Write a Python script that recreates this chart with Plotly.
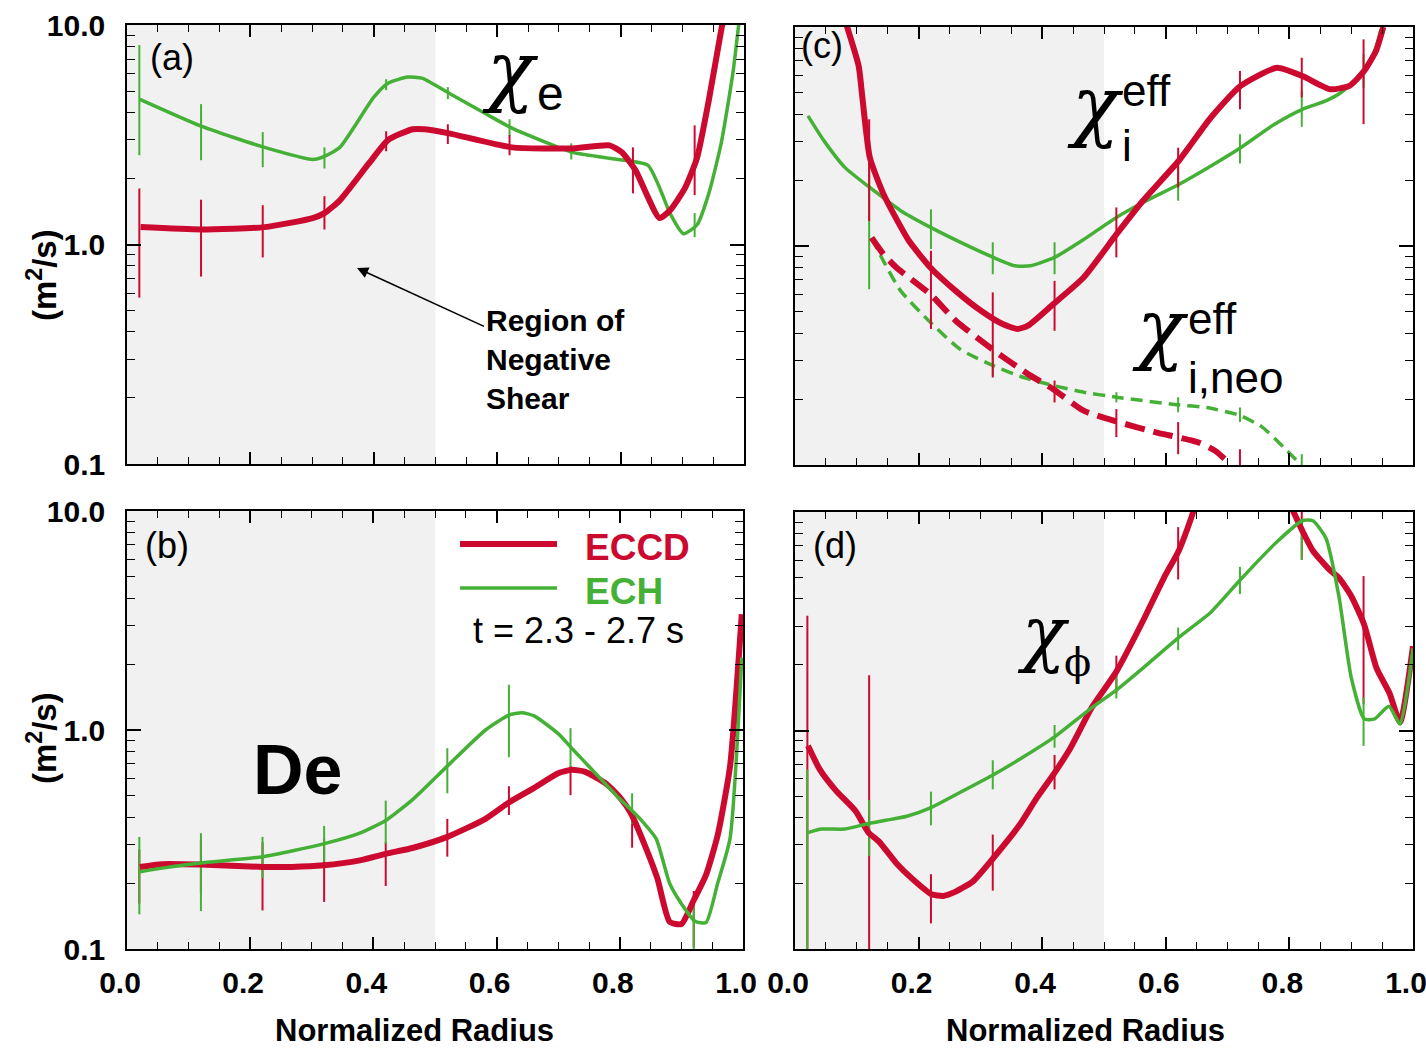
import plotly.graph_objects as go

# ---------------- data ----------------
# panel (a): electron heat diffusivity chi_e
a_eccd_x = [0.022, 0.12, 0.223, 0.301, 0.32, 0.345, 0.392, 0.423, 0.463, 0.483, 0.522, 0.624, 0.722, 0.782, 0.802, 0.824, 0.863, 0.88, 0.904, 0.924, 0.943, 0.964, 0.968]
a_eccd_y = [1.20, 1.17, 1.20, 1.32, 1.39, 1.59, 2.34, 2.99, 3.35, 3.35, 3.21, 2.77, 2.74, 2.83, 2.63, 2.18, 1.32, 1.43, 1.80, 2.49, 4.55, 9.8, 11.0]
a_ech_x = [0.021, 0.12, 0.223, 0.301, 0.32, 0.345, 0.40, 0.423, 0.455, 0.478, 0.522, 0.58, 0.624, 0.683, 0.722, 0.782, 0.844, 0.863, 0.88, 0.902, 0.924, 0.943, 0.963, 0.982, 0.993]
a_ech_y = [4.58, 3.46, 2.77, 2.44, 2.52, 2.77, 4.69, 5.43, 5.79, 5.73, 4.89, 3.96, 3.39, 2.89, 2.63, 2.47, 2.30, 1.82, 1.39, 1.12, 1.23, 1.71, 2.89, 6.04, 11.0]
a_eccd_err_x = [0.02, 0.12, 0.22, 0.32, 0.42, 0.52, 0.62, 0.82, 0.92]
a_eccd_err_lo = [0.573, 0.714, 0.873, 1.17, 2.66, 2.87, 2.55, 1.71, 1.68]
a_eccd_err_hi = [1.80, 1.60, 1.51, 1.66, 3.28, 3.53, 3.15, 2.77, 3.49]
a_ech_err_x = [0.02, 0.12, 0.22, 0.32, 0.42, 0.52, 0.62, 0.72, 0.92]
a_ech_err_lo = [2.55, 2.42, 2.25, 2.22, 5.05, 4.59, 3.11, 2.44, 1.08]
a_ech_err_hi = [8.1, 4.36, 3.25, 2.77, 5.66, 5.21, 3.72, 2.89, 1.39]

# panel (b): particle diffusivity D_e
b_eccd_x = [0.021, 0.057, 0.119, 0.221, 0.268, 0.319, 0.378, 0.42, 0.465, 0.52, 0.582, 0.62, 0.661, 0.70, 0.722, 0.743, 0.779, 0.802, 0.818, 0.841, 0.861, 0.881, 0.90, 0.92, 0.94, 0.959, 0.979, 0.998]
b_eccd_y = [0.237, 0.244, 0.243, 0.237, 0.237, 0.241, 0.254, 0.272, 0.290, 0.325, 0.393, 0.467, 0.544, 0.634, 0.658, 0.645, 0.565, 0.485, 0.417, 0.296, 0.210, 0.133, 0.130, 0.167, 0.218, 0.332, 0.684, 3.38]
b_ech_x = [0.021, 0.057, 0.119, 0.221, 0.319, 0.378, 0.42, 0.465, 0.52, 0.582, 0.62, 0.641, 0.661, 0.70, 0.722, 0.755, 0.794, 0.818, 0.838, 0.859, 0.881, 0.90, 0.922, 0.94, 0.959, 0.979, 0.998]
b_ech_y = [0.225, 0.234, 0.247, 0.264, 0.302, 0.338, 0.386, 0.485, 0.684, 1.0, 1.17, 1.20, 1.16, 0.962, 0.826, 0.658, 0.504, 0.433, 0.379, 0.319, 0.199, 0.161, 0.134, 0.132, 0.200, 0.320, 2.14]
b_err_x = [0.02, 0.12, 0.22, 0.32, 0.42, 0.52, 0.62, 0.72, 0.82, 0.92]
b_eccd_err_lo = [0.161, 0.180, 0.150, 0.164, 0.194, 0.264, 0.409, 0.504, 0.290, 0.102]
b_eccd_err_hi = [0.285, 0.313, 0.307, 0.319, 0.308, 0.393, 0.554, 0.684, 0.417, 0.184]
b_ech_err_lo = [0.144, 0.149, 0.210, 0.250, 0.302, 0.514, 0.751, 0.658, 0.372, 0.100]
b_ech_err_hi = [0.325, 0.338, 0.325, 0.365, 0.476, 0.826, 1.61, 1.02, 0.514, 0.174]

# panel (c): effective ion diffusivity and its neoclassical value
c_eccd_x = [0.082, 0.103, 0.109, 0.121, 0.143, 0.164, 0.184, 0.219, 0.260, 0.301, 0.336, 0.360, 0.377, 0.418, 0.467, 0.520, 0.563, 0.621, 0.673, 0.721, 0.780, 0.821, 0.866, 0.897, 0.921, 0.940, 0.952]
c_eccd_y = [10.5, 6.64, 4.77, 2.54, 1.73, 1.33, 1.06, 0.798, 0.624, 0.506, 0.440, 0.418, 0.433, 0.543, 0.718, 1.13, 1.61, 2.45, 3.86, 5.38, 6.52, 5.97, 5.20, 5.38, 6.30, 7.76, 10.0]
c_eccd_neo_x = [0.124, 0.143, 0.164, 0.219, 0.260, 0.319, 0.377, 0.418, 0.467, 0.520, 0.584, 0.652, 0.680, 0.701]
c_eccd_neo_y = [1.09, 0.918, 0.798, 0.602, 0.456, 0.338, 0.260, 0.222, 0.177, 0.158, 0.141, 0.127, 0.116, 0.103]
c_ech_x = [0.021, 0.047, 0.081, 0.121, 0.171, 0.221, 0.274, 0.321, 0.356, 0.381, 0.420, 0.467, 0.520, 0.563, 0.621, 0.673, 0.721, 0.776, 0.821, 0.859, 0.883, 0.921, 0.940, 0.948]
c_ech_y = [3.93, 3.02, 2.28, 1.85, 1.45, 1.21, 1.02, 0.887, 0.812, 0.812, 0.887, 1.07, 1.35, 1.58, 1.91, 2.32, 2.81, 3.60, 4.21, 4.60, 5.01, 6.30, 8.05, 9.76]
c_ech_neo_x = [0.124, 0.143, 0.171, 0.219, 0.267, 0.321, 0.370, 0.420, 0.467, 0.520, 0.621, 0.666, 0.721, 0.756, 0.790, 0.819]
c_ech_neo_y = [1.09, 0.855, 0.624, 0.448, 0.338, 0.284, 0.251, 0.230, 0.215, 0.204, 0.188, 0.183, 0.168, 0.149, 0.121, 0.100]
c_eccd_err_x = [0.12, 0.22, 0.32, 0.42, 0.52, 0.62, 0.72, 0.82, 0.92]
c_eccd_err_lo = [1.30, 0.418, 0.251, 0.410, 0.887, 1.85, 4.21, 4.77, 3.60]
c_eccd_err_hi = [3.79, 0.951, 0.614, 0.693, 1.50, 2.81, 6.30, 7.24, 8.78]
c_eccd_neo_err_x = [0.42, 0.52, 0.62, 0.72]
c_eccd_neo_err_lo = [0.193, 0.134, 0.112, 0.100]
c_eccd_neo_err_hi = [0.243, 0.180, 0.157, 0.118]
c_ech_err_x = [0.12, 0.22, 0.32, 0.42, 0.62, 0.72, 0.82, 0.92]
c_ech_err_lo = [0.635, 0.968, 0.743, 0.743, 1.61, 2.38, 3.50, 5.28]
c_ech_err_hi = [2.47, 1.47, 1.04, 1.04, 2.36, 3.24, 5.10, 7.50]
c_ech_neo_err_x = [0.32, 0.52, 0.62, 0.72, 0.82]
c_ech_neo_err_lo = [0.256, 0.193, 0.174, 0.157, 0.100]
c_ech_neo_err_hi = [0.333, 0.215, 0.204, 0.183, 0.112]

# panel (d): momentum diffusivity chi_phi (None = off scale above 10)
d_eccd_x = [0.021, 0.040, 0.067, 0.098, 0.119, 0.136, 0.164, 0.191, 0.221, 0.240, 0.260, 0.288, 0.321, 0.363, 0.391, 0.420, 0.446, 0.480, 0.520, 0.563, 0.597, 0.621, 0.642, 0.648,
            None, 0.800, 0.821, 0.838, 0.866, 0.880, 0.900, 0.921, 0.941, 0.962, 0.979, 1.0]
d_eccd_y = [0.851, 0.664, 0.528, 0.428, 0.341, 0.310, 0.247, 0.208, 0.178, 0.175, 0.183, 0.204, 0.261, 0.368, 0.490, 0.640, 0.834, 1.27, 1.86, 3.17, 5.00, 6.65, 9.55, 10.8,
            None, 11.0, 8.20, 6.65, 5.40, 5.00, 4.13, 3.05, 1.93, 1.48, 1.09, 2.43]
d_ech_x = [0.021, 0.043, 0.081, 0.119, 0.157, 0.181, 0.221, 0.260, 0.321, 0.370, 0.420, 0.480, 0.520, 0.563, 0.621, 0.673, 0.721, 0.780, 0.821, 0.838, 0.859, 0.880, 0.900, 0.921, 0.938, 0.961, 0.979, 1.0]
d_ech_y = [0.341, 0.354, 0.354, 0.375, 0.393, 0.405, 0.445, 0.508, 0.627, 0.758, 0.935, 1.27, 1.53, 1.93, 2.67, 3.48, 4.91, 7.31, 9.12, 9.12, 7.60, 4.13, 1.75, 1.13, 1.13, 1.29, 1.07, 2.38]
d_eccd_err_x = [0.02, 0.12, 0.22, 0.32, 0.42, 0.52, 0.62, 0.82, 0.92]
d_eccd_err_lo = [0.1, 0.1, 0.131, 0.185, 0.538, 1.48, 4.91, 6.05, 1.32]
d_eccd_err_hi = [3.35, 1.79, 0.220, 0.334, 0.773, 2.20, 8.53, 10.0, 5.09]
d_ech_err_x = [0.02, 0.12, 0.22, 0.32, 0.42, 0.52, 0.62, 0.72, 0.82, 0.92]
d_ech_err_lo = [0.1, 0.266, 0.368, 0.538, 0.834, 1.40, 2.33, 4.21, 6.05, 0.851]
d_ech_err_hi = [0.664, 0.481, 0.525, 0.731, 1.06, 1.86, 2.96, 5.61, 9.27, 1.42]

x_tick_vals = [0.0, 0.2, 0.4, 0.6, 0.8, 1.0]
x_tick_text = ["0.0", "0.2", "0.4", "0.6", "0.8", "1.0"]
y_tick_vals = [0.1, 1.0, 10.0]
y_tick_text = ["0.1", "1.0", "10.0"]

# ---------------- styling ----------------
RED = "#cc0a30"
GREEN = "#45b036"
W, H = 1426, 1048
BOLD_NARROW = "Liberation Sans Narrow, Arial Narrow, Liberation Sans, sans-serif"
SANS = "Liberation Sans, Arial, Helvetica, sans-serif"
CHI_FONT = "DejaVu Serif, Liberation Serif, serif"
TICK_FONT = dict(family=BOLD_NARROW, size=30, color="black", weight="bold")


def px(x, y):
    """pixel position -> paper coordinates"""
    return x / W, 1 - y / H


fig = go.Figure()

# panel frames (left, top, right, bottom in pixels)
frames = {
    1: (127, 25, 744, 464),   # (a)
    2: (795, 27, 1413, 465),  # (c)
    3: (127, 511, 743, 949),  # (b)
    4: (795, 512, 1413, 949), # (d)
}


def err_segments(xs, lo, hi):
    sx, sy = [], []
    for x, l, h in zip(xs, lo, hi):
        sx += [x, x, None]
        sy += [l, h, None]
    return sx, sy


def add_curve(n, x, y, color, width, dash="solid", smooth=0.55):
    ax = "" if n == 1 else str(n)
    fig.add_trace(go.Scatter(x=x, y=y, mode="lines", xaxis="x" + ax, yaxis="y" + ax,
                             line=dict(color=color, width=width, dash=dash, shape="spline", smoothing=smooth),
                             connectgaps=False, showlegend=False, hoverinfo="skip"))


def add_err(n, xs, lo, hi, color, width=2):
    ax = "" if n == 1 else str(n)
    sx, sy = err_segments(xs, lo, hi)
    fig.add_trace(go.Scatter(x=sx, y=sy, mode="lines", xaxis="x" + ax, yaxis="y" + ax,
                             line=dict(color=color, width=width), showlegend=False, hoverinfo="skip"))


# (a)
add_err(1, a_ech_err_x, a_ech_err_lo, a_ech_err_hi, GREEN)
add_curve(1, a_ech_x, a_ech_y, GREEN, 3.5)
add_err(1, a_eccd_err_x, a_eccd_err_lo, a_eccd_err_hi, RED)
add_curve(1, a_eccd_x, a_eccd_y, RED, 6)

# (c)
add_err(2, c_ech_err_x, c_ech_err_lo, c_ech_err_hi, GREEN)
add_err(2, c_ech_neo_err_x, c_ech_neo_err_lo, c_ech_neo_err_hi, GREEN)
add_curve(2, c_ech_x, c_ech_y, GREEN, 3.5)
add_curve(2, c_ech_neo_x, c_ech_neo_y, GREEN, 3.5, dash="12px,7px")
add_err(2, c_eccd_err_x, c_eccd_err_lo, c_eccd_err_hi, RED)
add_err(2, c_eccd_neo_err_x, c_eccd_neo_err_lo, c_eccd_neo_err_hi, RED)
add_curve(2, c_eccd_x, c_eccd_y, RED, 6)
add_curve(2, c_eccd_neo_x, c_eccd_neo_y, RED, 6, dash="20px,9px")

# (b)
add_err(3, b_err_x, b_eccd_err_lo, b_eccd_err_hi, RED)
add_err(3, b_err_x, b_ech_err_lo, b_ech_err_hi, GREEN)
add_curve(3, b_eccd_x, b_eccd_y, RED, 6)
add_curve(3, b_ech_x, b_ech_y, GREEN, 3.5)

# (d)
add_err(4, d_eccd_err_x, d_eccd_err_lo, d_eccd_err_hi, RED)
add_err(4, d_ech_err_x, d_ech_err_lo, d_ech_err_hi, GREEN)
add_curve(4, d_eccd_x, d_eccd_y, RED, 6)
add_curve(4, d_ech_x, d_ech_y, GREEN, 3.5)

layout = dict(width=W, height=H, margin=dict(l=0, r=0, t=0, b=0, autoexpand=False),
              paper_bgcolor="white", plot_bgcolor="white", showlegend=False)

shapes = []
for n, (l, t, r, b) in frames.items():
    ax = "" if n == 1 else str(n)
    show_x = n in (3, 4)
    show_y = n in (1, 3)
    layout["xaxis" + ax] = dict(
        domain=[l / W, r / W], anchor="y" + ax, range=[0, 1], automargin=False,
        tickmode="array", tickvals=x_tick_vals, ticktext=x_tick_text,
        ticks="inside", ticklen=12, tickwidth=1.5, tickcolor="black",
        minor=dict(dtick=0.05, ticks="inside", ticklen=7, tickwidth=1.2, tickcolor="black", showgrid=False),
        showline=True, linecolor="black", linewidth=1.5, mirror="allticks",
        showgrid=False, zeroline=False, showticklabels=show_x, tickfont=TICK_FONT,
        ticklabelstandoff=6, ticklabelshift=-7, ticklabeloverflow="allow",
    )
    layout["yaxis" + ax] = dict(
        domain=[1 - b / H, 1 - t / H], anchor="x" + ax, type="log", range=[-1, 1], automargin=False,
        tickmode="array", tickvals=y_tick_vals, ticktext=y_tick_text,
        ticks="inside", ticklen=14, tickwidth=1.5, tickcolor="black",
        minor=dict(dtick="D1", ticks="inside", ticklen=8, tickwidth=1.2, tickcolor="black", showgrid=False),
        showline=True, linecolor="black", linewidth=1.5, mirror="allticks",
        showgrid=False, zeroline=False, showticklabels=show_y, tickfont=TICK_FONT,
        ticklabelstandoff=14, ticklabeloverflow="allow",
    )
    # negative-shear region
    shapes.append(dict(type="rect", xref="x" + ax, yref="y" + ax + " domain", x0=0, x1=0.5, y0=0, y1=1,
                       fillcolor="#f1f1f1", line=dict(width=0), layer="below"))

# legend lines in (b)
shapes.append(dict(type="line", xref="paper", yref="paper", x0=460 / W, x1=557 / W, y0=1 - 544 / H, y1=1 - 544 / H,
                   line=dict(color=RED, width=6)))
shapes.append(dict(type="line", xref="paper", yref="paper", x0=460 / W, x1=557 / W, y0=1 - 588 / H, y1=1 - 588 / H,
                   line=dict(color=GREEN, width=3.5)))
layout["shapes"] = shapes

ann = []


def text(x, y, s, size, family=SANS, color="black", weight="normal", style="normal",
         xanchor="center", yanchor="middle", angle=0):
    X, Y = px(x, y)
    ann.append(dict(x=X, y=Y, xref="paper", yref="paper", text=s, showarrow=False, xanchor=xanchor, yanchor=yanchor,
                    textangle=angle, font=dict(family=family, size=size, color=color, weight=weight, style=style)))


# panel tags
text(172, 57, "(a)", 36)
text(167, 545, "(b)", 36)
text(822, 45, "(c)", 36)
text(835, 545, "(d)", 36)

# axis titles
text(42, 275, "(m<sup>2</sup>/s)", 33, BOLD_NARROW, weight="bold", angle=-90)
text(42, 738, "(m<sup>2</sup>/s)", 33, BOLD_NARROW, weight="bold", angle=-90)
text(415, 1030, "Normalized Radius", 31, BOLD_NARROW, weight="bold")
text(1085, 1030, "Normalized Radius", 31, BOLD_NARROW, weight="bold")

# quantity labels
text(510, 70, "χ", 78, CHI_FONT, style="italic")
text(550, 94, "e", 48)
text(297, 770, "De", 70, SANS, weight="bold")
text(1095, 105, "χ", 78, CHI_FONT, style="italic")
text(1146, 90, "eff", 44)
text(1127, 146, "i", 44)
text(1160, 328, "χ", 78, CHI_FONT, style="italic")
text(1212, 318, "eff", 44)
text(1235, 377, "i,neo", 44)
text(1043, 633, "χ", 72, CHI_FONT, style="italic")
text(1077, 662, "ϕ", 40, CHI_FONT)

# legend text
text(583, 547, "ECCD", 37, BOLD_NARROW, color=RED, weight="bold", xanchor="left")
text(583, 591, "ECH", 37, BOLD_NARROW, color=GREEN, weight="bold", xanchor="left")
text(578, 630, "t = 2.3 - 2.7 s", 36)

# region note, with its arrow pointing into the shaded area
hx, hy = px(357, 268)
ann.append(dict(x=hx, y=hy, xref="paper", yref="paper", ax=198, ay=91,
                text="Region of<br>Negative<br>Shear", align="left", showarrow=True,
                arrowhead=2, arrowsize=1.4, arrowwidth=1.6, arrowcolor="black",
                font=dict(family=BOLD_NARROW, size=30, color="black", weight="bold")))

layout["annotations"] = ann
fig.update_layout(**layout)
fig.write_html("out.html")
